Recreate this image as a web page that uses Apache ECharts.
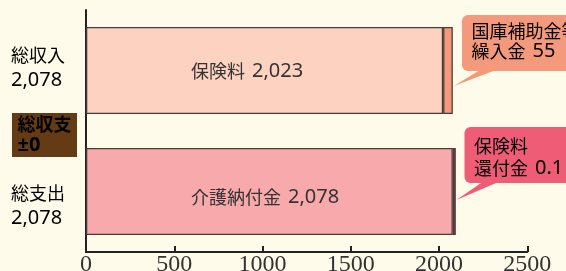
<!DOCTYPE html>
<html><head><meta charset="utf-8">
<script src="https://cdn.jsdelivr.net/npm/echarts@6/dist/echarts.min.js"></script>
<style>html,body{margin:0;padding:0;background:#fffbea;}#c{width:566px;height:271px;}</style>
</head><body><div id="c"></div>
<script>
// ---- data ----
const categories = ['総収入', '総支出'];
const categoryTotals = [2078, 2078];
const mainNames = ['保険料', '介護納付金'];
const mainValues = [2023, 2078];
const smallNames = ['国庫補助金等\n繰入金', '保険料\n還付金'];
const smallValues = [55, 0.1];
const balanceLines = ['総収支', '±0'];
const xTicks = [0, 500, 1000, 1500, 2000, 2500];

// ---- styles ----
const mainColors = ['#fdd2c1', '#f7a9ab'];
const smallColors = ['#f4997b', '#b8304a'];
const calloutColors = ['#f4997b', '#ef5c76'];
const labelDy = [1, 6];
const CJK = 'Noto Sans CJK JP';
const LAT = 'Noto Sans, Noto Sans CJK JP';
const fmt = v => v.toLocaleString('en-US');

const chart = echarts.init(document.getElementById('c'), null, {renderer: 'canvas'});
const border = {borderColor: '#4a3c38', borderWidth: 1.3};

function richSet(color, lh) {
  return {
    c: {fontSize: 18, fontFamily: CJK, color: color, lineHeight: lh},
    n: {fontSize: 20, fontFamily: LAT, color: color, lineHeight: lh},
    s: {fontSize: 8, fontFamily: LAT, color: color, lineHeight: lh, width: 7}
  };
}

chart.setOption({
  backgroundColor: '#fffbea',
  animation: false,
  grid: {left: 86, right: 38.7, top: 10, bottom: 19, containLabel: false, outerBoundsMode: 'none'},
  xAxis: {
    type: 'value', min: xTicks[0], max: xTicks[xTicks.length - 1], interval: xTicks[1] - xTicks[0],
    axisLine: {show: true, lineStyle: {color: '#222', width: 2}},
    axisTick: {show: true, inside: true, length: 6, lineStyle: {color: '#222', width: 2}},
    splitLine: {show: false},
    axisLabel: {margin: 1, color: '#333', fontSize: 24, fontFamily: 'Liberation Serif', formatter: v => String(v)}
  },
  yAxis: {
    type: 'category', data: categories, inverse: true,
    axisLine: {show: true, lineStyle: {color: '#222', width: 2}},
    axisTick: {show: false}, axisLabel: {show: false}
  },
  series: [
    {
      type: 'bar', stack: 't', barWidth: '72%',
      data: mainValues.map((v, i) => ({
        value: v,
        itemStyle: Object.assign({color: mainColors[i]}, border),
        label: {offset: [0, labelDy[i]]}
      })),
      label: {
        show: true, position: [105, '50%'], verticalAlign: 'middle', align: 'left',
        rich: richSet('#333', 24),
        formatter: p => '{c|' + mainNames[p.dataIndex] + '}{s|\u00a0}{n|' + fmt(p.value) + '}'
      }
    },
    {
      type: 'bar', stack: 't', barMinHeight: 3,
      data: smallValues.map((v, i) => ({
        value: v,
        itemStyle: Object.assign({color: smallColors[i]}, border)
      }))
    }
  ]
});

function place() {
  const g = [];
  const leftY = [43, 181];
  categories.forEach((c, i) => {
    g.push({type: 'text', x: 11, y: leftY[i], style: {
      text: '{c|' + c + '}\n{n|' + fmt(categoryTotals[i]) + '}', rich: richSet('#333', 25)
    }});
  });
  g.push({type: 'rect', shape: {x: 12, y: 113, width: 65, height: 44}, style: {fill: '#653b15'}});
  g.push({type: 'text', x: 17.5, y: 114, style: {
    text: '{c|' + balanceLines[0] + '}\n{n|' + balanceLines[1] + '}',
    rich: {
      c: {fontSize: 18, fontFamily: CJK, fontWeight: 'bold', color: '#fff', lineHeight: 21},
      n: {fontSize: 20, fontFamily: LAT, fontWeight: 'bold', color: '#fff', lineHeight: 21}
    }
  }});
  const boxY = [15, 127];
  const tipDy = [15.5, 8.5];
  const textX = [471.5, 474];
  const boxX = [462, 464.5];
  const calloutLH = [20, 22];
  categories.forEach((c, i) => {
    const tot = mainValues[i] + smallValues[i];
    const end = chart.convertToPixel({xAxisIndex: 0, yAxisIndex: 0}, [tot, i]);
    const endX = i === 1 ? chart.convertToPixel({xAxisIndex: 0}, mainValues[i]) + 3.5 : end[0] + 1;
    const tip = [endX, end[1] + tipDy[i]];
    const by = boxY[i], bh = 56;
    g.push({type: 'rect', shape: {x: boxX[i], y: by, width: 140, height: bh, r: 6}, style: {fill: calloutColors[i]}});
    g.push({type: 'polygon', shape: {points: [[boxX[i] + 18, by + bh - 1], [boxX[i] + 34, by + bh - 1], tip]}, style: {fill: calloutColors[i]}});
    const lines = smallNames[i].split('\n');
    g.push({type: 'text', x: textX[i], y: by + 6 + (i === 1 ? 2 : 0), style: {
      text: '{c|' + lines[0] + '}\n{c|' + lines[1] + '}{s|\u00a0}{n|' + fmt(smallValues[i]) + '}',
      rich: richSet('#fff', calloutLH[i])
    }});
  });
  chart.setOption({graphic: g});
}
place();
</script>
</body></html>
